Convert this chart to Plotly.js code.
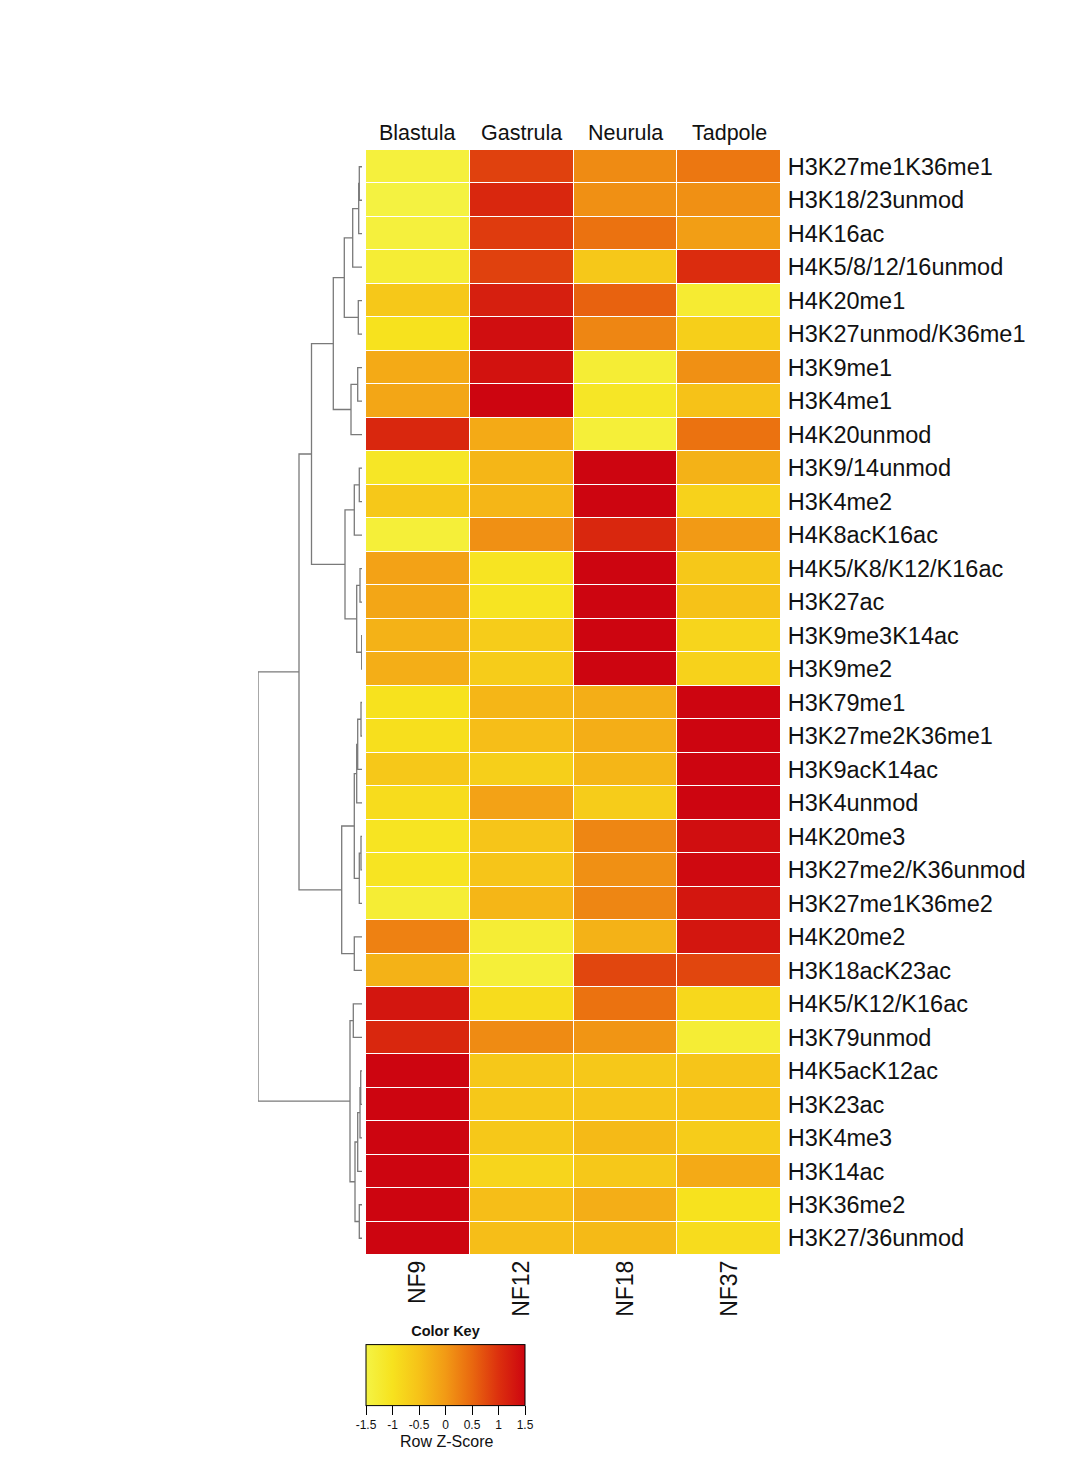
<!DOCTYPE html>
<html><head><meta charset="utf-8">
<script src="https://cdn.plot.ly/plotly-3.0.1.min.js"></script>
<style>html,body{margin:0;padding:0;background:#fff;} #chart{width:1082px;height:1471px;}</style>
</head><body><div id="chart"></div>
<script>
// ---- data ----
const rowLabels = ['H3K27me1K36me1','H3K18/23unmod','H4K16ac','H4K5/8/12/16unmod','H4K20me1','H3K27unmod/K36me1','H3K9me1','H3K4me1','H4K20unmod','H3K9/14unmod','H3K4me2','H4K8acK16ac','H4K5/K8/K12/K16ac','H3K27ac','H3K9me3K14ac','H3K9me2','H3K79me1','H3K27me2K36me1','H3K9acK14ac','H3K4unmod','H4K20me3','H3K27me2/K36unmod','H3K27me1K36me2','H4K20me2','H3K18acK23ac','H4K5/K12/K16ac','H3K79unmod','H4K5acK12ac','H3K23ac','H3K4me3','H3K14ac','H3K36me2','H3K27/36unmod'];
const stageLabels = ['Blastula','Gastrula','Neurula','Tadpole'];
const sampleLabels = ['NF9','NF12','NF18','NF37'];
// row z-scores per sample
const nf9  = [-1.4,-1.45,-1.4,-1.3,-0.6,-1.0,-0.2,-0.15,1.1,-1.1,-0.6,-1.35,-0.1,-0.15,-0.3,-0.25,-1.0,-0.95,-0.6,-0.9,-1.05,-1.05,-1.3,0.25,-0.3,1.3,1.1,1.5,1.5,1.5,1.5,1.5,1.5];
const nf12 = [0.85,1.1,0.9,0.85,1.2,1.4,1.35,1.5,-0.2,-0.35,-0.35,0.1,-1.05,-1.05,-0.65,-0.65,-0.35,-0.45,-0.7,-0.1,-0.55,-0.55,-0.35,-1.3,-1.35,-0.9,0.15,-0.6,-0.6,-0.6,-0.8,-0.45,-0.45];
const nf18 = [0.15,0.1,0.4,-0.6,0.55,0.2,-1.3,-1.1,-1.35,1.5,1.5,1.1,1.5,1.5,1.5,1.5,-0.25,-0.25,-0.35,-0.65,0.2,0.1,0.2,-0.3,0.8,0.4,0.05,-0.6,-0.55,-0.4,-0.6,-0.25,-0.4];
const nf37 = [0.35,0.1,-0.05,1.05,-1.25,-0.7,0.1,-0.5,0.4,-0.3,-0.75,0.0,-0.6,-0.5,-0.8,-0.75,1.5,1.5,1.5,1.5,1.4,1.45,1.3,1.3,0.8,-0.85,-1.3,-0.55,-0.5,-0.65,-0.2,-1.0,-0.9];
// row dendrogram (hclust style: negative = leaf row, positive = earlier merge)
const mergePairs = [[-1,-2],[1,-3],[2,-4],[-5,-6],[3,4],[-7,-8],[6,-9],[5,7],[-10,-11],[9,-12],[-13,-14],[-15,-16],[11,12],[10,13],[8,14],[-17,-18],[16,-19],[17,-20],[-21,-22],[19,-23],[18,20],[-24,-25],[21,22],[15,23],[-26,-27],[-28,-29],[26,-30],[27,-31],[-32,-33],[28,29],[25,30],[24,31]];
const mergeHeights = [0.27,0.33,0.93,0.37,1.77,0.43,1.10,2.87,0.27,0.77,0.20,0.03,0.53,1.70,5.05,0.10,0.43,0.53,0.10,0.27,0.77,0.77,2.03,6.30,0.87,0.13,0.20,0.43,0.27,0.70,1.20,10.40];
const keyTicks = [-1.5,-1,-0.5,0,0.5,1,1.5];
const keyTickText = ['-1.5','-1','-0.5','0','0.5','1','1.5'];

// ---- build ----
const W = 1082, H = 1471;
const px = v => v / W, py = v => 1 - v / H;
const FONT = 'Liberation Sans, Arial, Helvetica, sans-serif';
const rowIdx = rowLabels.map((_, i) => i);
const colIdx = sampleLabels.map((_, i) => i);
const z = rowLabels.map((_, i) => [nf9[i], nf12[i], nf18[i], nf37[i]]);

const colorscale = [
  [0, '#f4f445'], [1/6, '#f7e21e'], [2/6, '#f6c218'], [3/6, '#f29a15'],
  [4/6, '#e9680f'], [5/6, '#dc300e'], [1, '#cd0510']
];

const nodeY = [], nodeH = [];
const pos = id => id < 0 ? {y: -id - 1, h: 0} : {y: nodeY[id - 1], h: nodeH[id - 1]};
const dx = [], dy = [];
mergePairs.forEach((p, k) => {
  const a = pos(p[0]), b = pos(p[1]), h = mergeHeights[k];
  dx.push(a.h, h, h, b.h, null);
  dy.push(a.y, a.y, b.y, b.y, null);
  nodeY.push((a.y + b.y) / 2); nodeH.push(h);
});

const heat = {
  type: 'heatmap', x: colIdx, y: rowIdx, z: z,
  xaxis: 'x', yaxis: 'y',
  colorscale: colorscale, zmin: -1.5, zmax: 1.5,
  xgap: 1, ygap: 1, hoverinfo: 'skip',
  colorbar: {
    orientation: 'h', x: px(366), xanchor: 'left', y: py(1433), yanchor: 'bottom',
    len: 159, lenmode: 'pixels', thickness: 61, thicknessmode: 'pixels',
    xpad: 0, ypad: 0, outlinewidth: 1, outlinecolor: '#000',
    tickvals: keyTicks, ticktext: keyTickText, ticks: 'outside', ticklen: 9, tickcolor: '#000',
    tickfont: {family: FONT, size: 12, color: '#111'},
    title: {text: '<b>Color Key</b>', side: 'top', font: {family: FONT, size: 14.5, color: '#111'}}
  }
};

const dendro = {
  type: 'scatter', mode: 'lines', x: dx, y: dy, xaxis: 'x2', yaxis: 'y',
  line: {color: '#7a7a7a', width: 1.3}, hoverinfo: 'skip', showlegend: false
};

const annotations = stageLabels.map((s, i) => ({
  text: s, x: i, xref: 'x', y: py(150), yref: 'paper', yanchor: 'bottom', yshift: 3,
  showarrow: false, font: {family: FONT, size: 21.5, color: '#111'}
}));
annotations.push({
  text: 'Row Z-Score', x: px(446), xref: 'paper', y: py(1441), yref: 'paper',
  xanchor: 'center', yanchor: 'middle', showarrow: false,
  font: {family: FONT, size: 16, color: '#111'}
});

const layout = {
  width: W, height: H, margin: {l: 0, r: 0, t: 0, b: 0},
  paper_bgcolor: '#fff', plot_bgcolor: '#fff', showlegend: false,
  font: {family: FONT, color: '#111'},
  xaxis: {
    domain: [px(366), px(781)], range: [-0.5, 3.5], anchor: 'y',
    tickvals: colIdx, ticktext: sampleLabels, tickangle: -90,
    ticks: '', 
    tickfont: {family: FONT, size: 23, color: '#111'},
    showgrid: false, zeroline: false, showline: false, fixedrange: true
  },
  yaxis: {
    domain: [py(1255), py(150)], range: [rowLabels.length - 0.5, -0.5], anchor: 'x', side: 'right',
    tickvals: rowIdx, ticktext: rowLabels,
    ticks: 'outside', ticklen: 1, tickcolor: 'rgba(0,0,0,0)',
    tickfont: {family: FONT, size: 23.5, color: '#111'},
    showgrid: false, zeroline: false, showline: false, fixedrange: true
  },
  xaxis2: {
    domain: [px(258), px(362)], range: [10.4, 0], anchor: 'y',
    visible: false, showgrid: false, zeroline: false, fixedrange: true
  },
  annotations: annotations
};

Plotly.newPlot('chart', [heat, dendro], layout, {displayModeBar: false, staticPlot: true});
</script>
</body></html>
